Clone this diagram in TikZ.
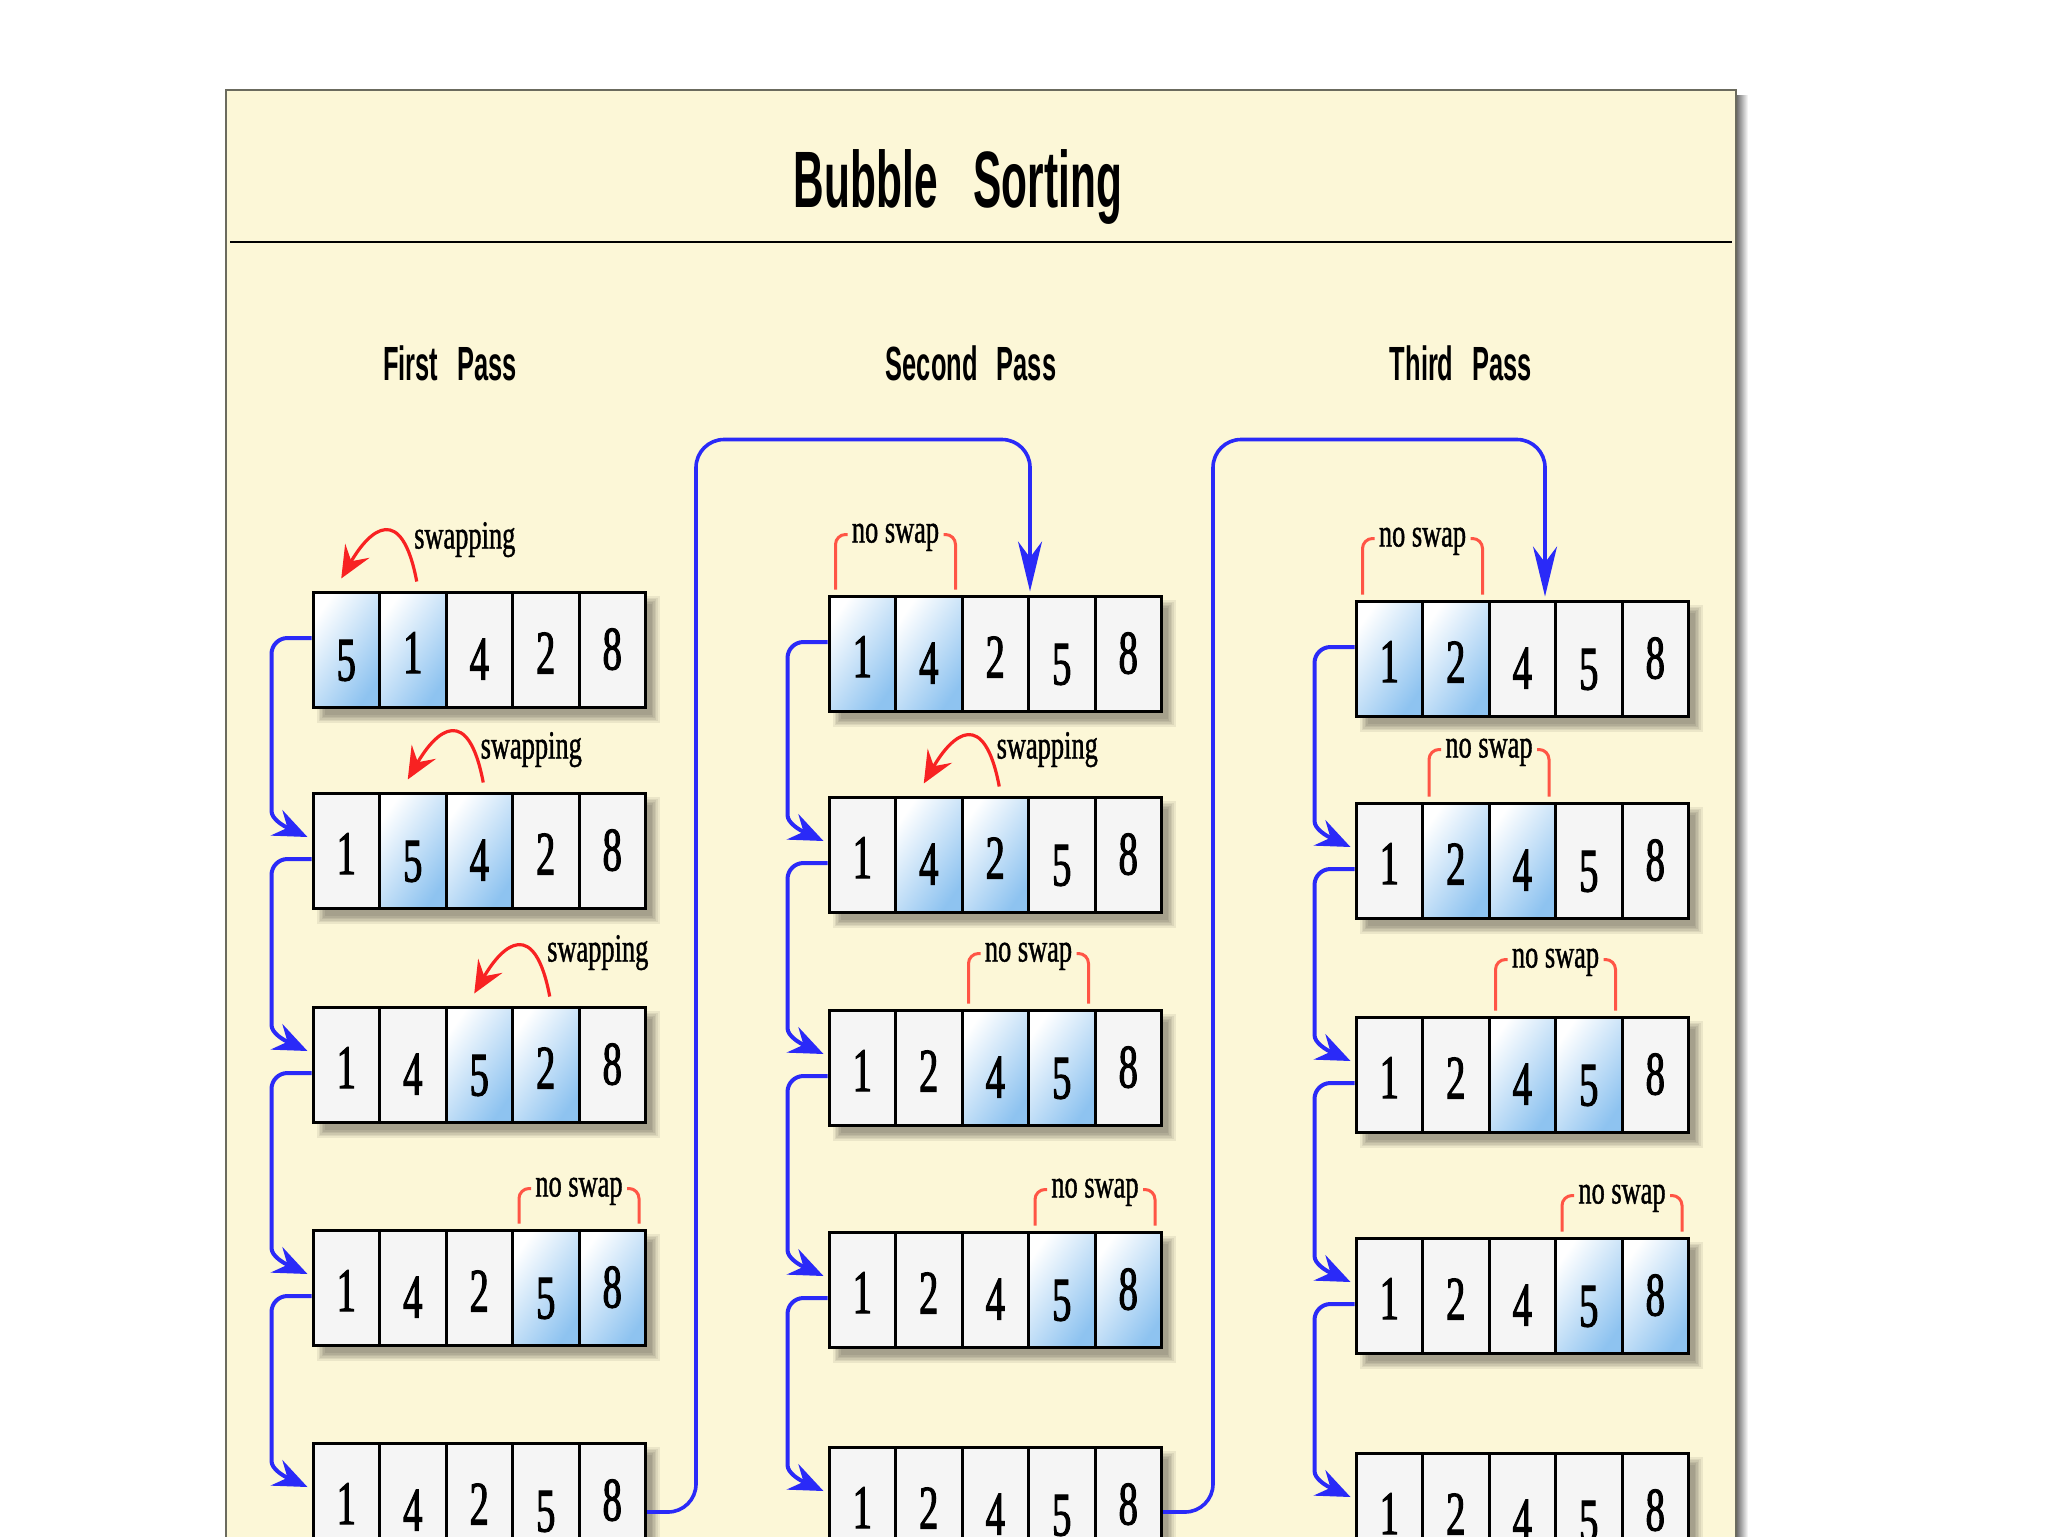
\documentclass[tikz,border=0pt]{standalone}
\usepackage{fontspec}
\setmainfont{Liberation Serif}
\newfontfamily\dgfont{Liberation Serif}[FakeStretch=0.62,FakeBold=1.6]
\newfontfamily\lblfont{Liberation Serif}[FakeStretch=0.66,FakeBold=1]
\newfontfamily\ttlfont{Liberation Sans}[FakeStretch=0.53]
\usetikzlibrary{arrows.meta,calc}
\definecolor{panelbg}{HTML}{FCF7D7}
\definecolor{panelline}{HTML}{6B6B5E}
\definecolor{hlblue}{HTML}{8EC3F0}
\definecolor{cellgray}{HTML}{F5F5F5}
\definecolor{arrblue}{HTML}{2A2AF8}
\definecolor{swapred}{HTML}{F82222}
\definecolor{brred}{HTML}{FF5545}
\tikzset{
  cellbox/.style={draw=black, line width=1.5pt, minimum width=33.25pt, minimum height=57.5pt,
    inner sep=0pt, text height=21pt, text depth=0pt, font=\dgfont\fontsize{31}{31}\selectfont},
  hl0/.style={fill=cellgray},
  hl1/.style={top color=white, bottom color=hlblue, shading angle=55},
  barrow/.style={draw=arrblue, line width=2pt, -{Stealth[length=17pt,width=14pt,inset=6pt]}},
  bigarrow/.style={draw=arrblue, line width=1.8pt, -{Stealth[length=25pt,width=12pt,inset=8pt]}},
  swaparrow/.style={draw=swapred, line width=1.6pt, -{Stealth[length=16pt,width=14pt,inset=6pt]}},
  brk/.style={draw=brred, line width=1.5pt, rounded corners=5pt},
  lbl/.style={inner sep=0pt, font=\lblfont\fontsize{20}{20}\selectfont},
  ttl/.style={inner sep=0pt, font=\ttlfont\bfseries\fontsize{40}{44}\selectfont},
  sub/.style={inner sep=0pt, font=\ttlfont\bfseries\fontsize{24}{26}\selectfont}
}
\newcommand\dg[1]{\ifcase#1\relax\or\raisebox{-1.25pt}{1}\or\raisebox{-1.5pt}{2}\or3\or\raisebox{-4.5pt}{4}\or\raisebox{-5pt}{5}\or6\or7\or\raisebox{0.5pt}{8}\fi}
% row: name, x, y(top), digits, highlighted first index
\newcommand\arow[5]{%
  \foreach \s in {0,...,5}{\fill[black,opacity=0.065] ({#2+4+\s*1.6},{#3+4+\s*1.6}) rectangle ({#2+346.5-\s*1.6},{#3+131-\s*1.6});}%
  \foreach \d [count=\k] in {#4}{%
    \pgfmathtruncatemacro\ishl{(#5>0)&&((\k==#5)||(\k==#5+1))}%
    \node[cellbox,hl\ishl] (#1-\k) at ({#2+(\k-0.5)*66.5},{#3+57.5}) {\dg{\d}};
  }%
}
% vertical arrow: from row, to row, leave offset
\newcommand\varr[3]{%
  \draw[barrow] ($(#1-1.west)+(0,#3)$) [rounded corners=8pt] -- ($(#1-1.west)+(-40,#3)$) -- ($(#2-1.west)+(-40,-55.5)$) [sharp corners]
    .. controls ($(#2-1.west)+(-40,-31.5)$) and ($(#2-1.west)+(-28,-24.5)$) .. ($(#2-1.west)+(-4,-13.5)$);
}
% no swap bracket: row, first cell, mid offset
\newcommand\nsw[3]{%
  \pgfmathtruncatemacro\nb{#2+1}%
  \draw[brk] ($(#1-#2.north west)+(8,-5)$) -- ($(#1-#2.north west)+(8,#3-1)$) -- ($(#1-#2.north west)+(20,#3-1)$);
  \draw[brk] ($(#1-\nb.north east)+(-8,-5)$) -- ($(#1-\nb.north east)+(-8,#3-1)$) -- ($(#1-\nb.north east)+(-20,#3-1)$);
  \node[lbl, anchor=base] (#1-ns) at ($(#1-#2.north west)!0.5!(#1-\nb.north east)+(0,#3+7)$) {no swap};
}
% swapping arc: row, first cell, label baseline offset
\newcommand\swp[3]{%
  \pgfmathtruncatemacro\nb{#2+1}%
  \draw[swaparrow] ($(#1-\nb.north)+(4,-9)$) .. controls ($(#1-\nb.north)+(-11,-88)$) and ($(#1-#2.north)+(24,-62)$) .. ($(#1-#2.north)+(-5,-12)$);
  \node[lbl, anchor=base] (#1-sw) at ($(#1-\nb.north)+(52,#3)$) {swapping};
}
\begin{document}
\begin{tikzpicture}[x=0.5pt,y=-0.5pt]
\useasboundingbox (0,0) rectangle (2048,1536);
\clip (0,0) rectangle (2048,1536);
\fill[white] (0,0) rectangle (2048,1536);
% panel
\shade[left color=black!60, right color=white] (1736,96) rectangle (1748,1540);
\fill[panelbg] (226,90) rectangle (1736,1560);
\draw[panelline, line width=1pt] (226,1560) -- (226,90) -- (1736,90) -- (1736,1560);
\draw[black, line width=1.1pt] (230,242) -- (1732,242);
% titles
\node[ttl, anchor=base] (title) at (958,207) {Bubble\hspace{0.45em}Sorting};
\node[sub, anchor=base] (p1) at (450,380) {First\hspace{0.4em}Pass};
\node[sub, anchor=base] (p2) at (971,380) {Second\hspace{0.4em}Pass};
\node[sub, anchor=base] (p3) at (1461,380) {Third\hspace{0.4em}Pass};
% column 1
\arow{c11}{313}{592}{5,1,4,2,8}{1}
\arow{c12}{313}{793}{1,5,4,2,8}{2}
\arow{c13}{313}{1007}{1,4,5,2,8}{3}
\arow{c14}{313}{1230}{1,4,2,5,8}{4}
\arow{c15}{313}{1443}{1,4,2,5,8}{0}
% column 2
\arow{c21}{829}{596}{1,4,2,5,8}{1}
\arow{c22}{829}{797}{1,4,2,5,8}{2}
\arow{c23}{829}{1010}{1,2,4,5,8}{3}
\arow{c24}{829}{1232}{1,2,4,5,8}{4}
\arow{c25}{829}{1447}{1,2,4,5,8}{0}
% column 3
\arow{c31}{1356}{601}{1,2,4,5,8}{1}
\arow{c32}{1356}{803}{1,2,4,5,8}{2}
\arow{c33}{1356}{1017}{1,2,4,5,8}{3}
\arow{c34}{1356}{1238}{1,2,4,5,8}{4}
\arow{c35}{1356}{1453}{1,2,4,5,8}{0}
% vertical arrows
\varr{c11}{c12}{-11.5}
\varr{c12}{c13}{8.5}
\varr{c13}{c14}{8.5}
\varr{c14}{c15}{8.5}
\varr{c21}{c22}{-11.5}
\varr{c22}{c23}{8.5}
\varr{c23}{c24}{8.5}
\varr{c24}{c25}{8.5}
\varr{c31}{c32}{-11.5}
\varr{c32}{c33}{8.5}
\varr{c33}{c34}{8.5}
\varr{c34}{c35}{8.5}
% pass connectors
\draw[bigarrow, rounded corners=14pt] ($(c15-5.east)+(0,11.5)$) -- ++(49,0) |- ($(c21-3.north east)+(0,-155)$) -- ($(c21-3.north east)+(0,-3)$);
\draw[bigarrow, rounded corners=14pt] ($(c25-5.east)+(0,7.5)$) -- ++(50,0) |- ($(c31-3.north east)+(-12,-160)$) -- ($(c31-3.north east)+(-12,-3)$);
% annotations
\swp{c11}{1}{-42}
\swp{c12}{2}{-33}
\swp{c13}{3}{-44}
\nsw{c14}{4}{-39}
\nsw{c21}{1}{-59}
\swp{c22}{2}{-37}
\nsw{c23}{3}{-54}
\nsw{c24}{4}{-40}
\nsw{c31}{1}{-60}
\nsw{c32}{2}{-51}
\nsw{c33}{3}{-55}
\nsw{c34}{4}{-40}
\end{tikzpicture}
\end{document}
